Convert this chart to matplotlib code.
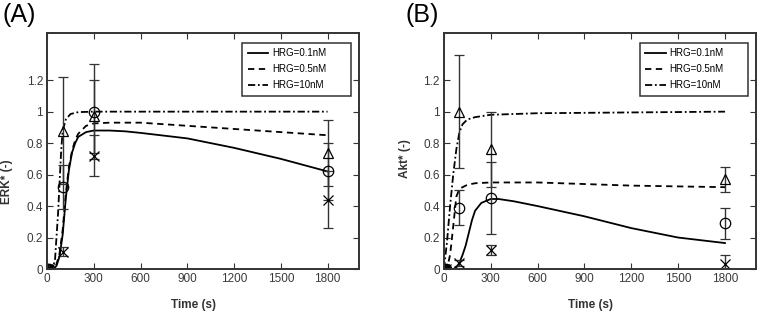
import numpy as np
import matplotlib
matplotlib.use("Agg")
import matplotlib.pyplot as plt

plt.rcParams['font.family'] = ['Liberation Sans', 'DejaVu Sans']

# experiment time points (s)
t_exp = [0, 15, 100, 300, 1800]

# ERK* data (circle, triangle, cross) and errors
erk_circ = [0, 0, 0.52, 1.00, 0.62]
erk_circ_err = [0, 0.01, 0.14, 0.30, 0.18]
erk_tri = [0, 0, 0.88, 0.97, 0.74]
erk_tri_err = [0, 0.01, 0.34, 0.23, 0.21]
erk_x = [0, 0, 0.11, 0.72, 0.44]
erk_x_err = [0, 0.01, 0.03, 0.13, 0.18]

# Akt* data
akt_circ = [0, 0, 0.39, 0.45, 0.29]
akt_circ_err = [0, 0.01, 0.11, 0.23, 0.10]
akt_tri = [0, 0, 1.00, 0.76, 0.57]
akt_tri_err = [0, 0.01, 0.36, 0.24, 0.08]
akt_x = [0, 0, 0.04, 0.12, 0.03]
akt_x_err = [0, 0.01, 0.02, 0.03, 0.06]

# simulation curves
erk_t01 = [0, 40, 60, 80, 100, 120, 140, 160, 180, 200, 250, 300, 400, 500, 600, 900, 1200, 1500, 1800]
erk_v01 = [0, 0, 0.02, 0.08, 0.22, 0.45, 0.63, 0.74, 0.80, 0.84, 0.87, 0.88, 0.88, 0.875, 0.865, 0.83, 0.77, 0.70, 0.62]
erk_t05 = [0, 40, 60, 80, 100, 120, 140, 160, 180, 200, 250, 300, 400, 600, 900, 1200, 1500, 1800]
erk_v05 = [0, 0, 0.03, 0.10, 0.25, 0.48, 0.65, 0.75, 0.82, 0.86, 0.91, 0.925, 0.93, 0.93, 0.91, 0.89, 0.87, 0.85]
erk_t10 = [0, 30, 50, 70, 90, 100, 120, 150, 200, 300, 1800]
erk_v10 = [0, 0, 0.05, 0.35, 0.75, 0.88, 0.95, 0.985, 0.997, 1.0, 1.0]

akt_t01 = [0, 60, 80, 100, 120, 140, 160, 180, 200, 240, 300, 350, 450, 600, 900, 1200, 1500, 1800]
akt_v01 = [0, 0, 0.01, 0.04, 0.09, 0.15, 0.23, 0.31, 0.37, 0.42, 0.445, 0.445, 0.43, 0.40, 0.335, 0.26, 0.20, 0.165]
akt_t05 = [0, 20, 40, 60, 80, 100, 150, 200, 300, 600, 900, 1200, 1500, 1800]
akt_v05 = [0, 0, 0.09, 0.27, 0.46, 0.51, 0.535, 0.545, 0.55, 0.55, 0.54, 0.53, 0.525, 0.52]
akt_t10 = [0, 20, 40, 60, 80, 100, 120, 150, 200, 300, 600, 1200, 1800]
akt_v10 = [0, 0.17, 0.40, 0.60, 0.76, 0.87, 0.92, 0.95, 0.965, 0.98, 0.99, 0.995, 1.0]

legend_labels = ["HRG=0.1nM", "HRG=0.5nM", "HRG=10nM"]
xticks = [0, 300, 600, 900, 1200, 1500, 1800]
yticks = [0, 0.2, 0.4, 0.6, 0.8, 1.0, 1.2]
ytick_labels = ["0", "0.2", "0.4", "0.6", "0.8", "1", "1.2"]

fig = plt.figure(figsize=(7.6, 3.11), dpi=100)
axA = fig.add_axes([0.062, 0.135, 0.41, 0.759])
axB = fig.add_axes([0.584, 0.135, 0.411, 0.759])

gray = "#333333"


def draw(ax, curves, data, ylabel, ylab_x, ylab_y, panel, panel_x):
    styles = ["-", (0, (3.5, 2.5)), (0, (4, 1.5, 1, 1.5))]
    for (t, v), ls, lab in zip(curves, styles, legend_labels):
        ax.plot(t, v, color="black", lw=1.3, linestyle=ls, label=lab)
    for (vals, err), mk in zip(data, ["o", "^", "x"]):
        ax.errorbar(t_exp, vals, yerr=err, fmt=mk, color=gray, ecolor=gray,
                    mfc="none", mec="black", ms=7.5, mew=0.9,
                    elinewidth=1.0, capsize=3.5, capthick=1.0)
    ax.set_xlim(0, 2000)
    ax.set_ylim(0, 1.5)
    ax.set_xticks(xticks)
    ax.set_yticks(yticks)
    ax.set_yticklabels(ytick_labels)
    ax.tick_params(direction="in", top=True, right=True, length=4,
                   labelsize=8.5, labelcolor="#3a3a3a", color=gray, pad=3)
    for s in ax.spines.values():
        s.set_linewidth(1.4)
        s.set_color(gray)
    ax.set_xlabel("Time (s)", fontsize=8.5, fontweight="bold", color=gray)
    ax.xaxis.set_label_coords(0.47, -0.125)
    ax.set_ylabel(ylabel, fontsize=8.5, fontweight="bold", color=gray)
    ax.yaxis.set_label_coords(ylab_x, ylab_y)
    leg = ax.legend(loc="upper left", bbox_to_anchor=(0.627, 0.737, 0.347, 0.221),
                    mode="expand", borderaxespad=0, fontsize=7,
                    frameon=True, fancybox=False, handlelength=2.1,
                    borderpad=0.57, labelspacing=0.6, handletextpad=0.4)
    leg.get_frame().set_edgecolor("black")
    leg.get_frame().set_linewidth(1.1)
    fig.text(panel_x, 0.99, panel, fontsize=18, va="top", ha="left")


draw(axA, [(erk_t01, erk_v01), (erk_t05, erk_v05), (erk_t10, erk_v10)],
     [(erk_circ, erk_circ_err), (erk_tri, erk_tri_err), (erk_x, erk_x_err)],
     "ERK* (-)", -0.108, 0.37, "(A)", 0.003)
draw(axB, [(akt_t01, akt_v01), (akt_t05, akt_v05), (akt_t10, akt_v10)],
     [(akt_circ, akt_circ_err), (akt_tri, akt_tri_err), (akt_x, akt_x_err)],
     "Akt* (-)", -0.106, 0.47, "(B)", 0.533)

fig.savefig("out.png", dpi=100)
